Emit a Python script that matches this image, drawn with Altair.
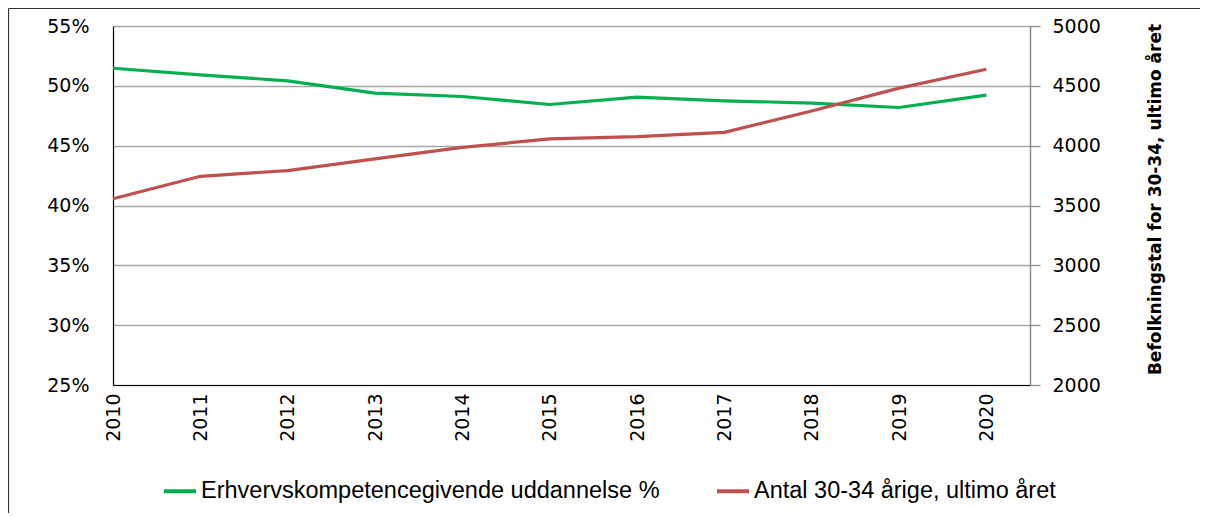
import altair as alt
import pandas as pd

years = [2010, 2011, 2012, 2013, 2014, 2015, 2016, 2017, 2018, 2019, 2020]
pct = [0.5147, 0.5092, 0.5042, 0.4939, 0.4911, 0.4844, 0.4906, 0.4875, 0.4856, 0.4819, 0.4922]
antal = [3556, 3744, 3792, 3889, 3986, 4056, 4075, 4111, 4290, 4481, 4639]

s1 = "Erhvervskompetencegivende  uddannelse %"
s2 = "Antal 30-34 årige, ultimo året"
right_title = "Befolkningstal for 30-34, ultimo året"

df1 = pd.DataFrame({"year": years, "pct": pct, "series": [s1] * len(years)})
df2 = pd.DataFrame({"year": years, "antal": antal, "series": [s2] * len(years)})

FONT = "DejaVu Sans"

xenc = alt.X("year:Q",
             scale=alt.Scale(domain=[2010, 2020.5], nice=False, zero=False),
             axis=alt.Axis(values=years, format="d", labelAngle=270, labelFontSize=19,
                           labelFont=FONT, labelColor="#000", labelPadding=8,
                           ticks=False, grid=False, domainColor="#000", domainWidth=1.2,
                           title=None))

color = alt.Color("series:N",
                  scale=alt.Scale(domain=[s1, s2], range=["#00B050", "#C0504D"]),
                  legend=alt.Legend(orient="none", legendX=49, legendY=447, direction="horizontal",
                                    title=None, symbolType="stroke", symbolSize=1024,
                                    symbolStrokeWidth=4, labelFont="Liberation Sans",
                                    labelFontSize=23.5, labelColor="#000", labelOffset=3,
                                    columnPadding=42, labelLimit=600))

green = alt.Chart(df1).mark_line(strokeWidth=3.2).encode(
    x=xenc,
    y=alt.Y("pct:Q",
            scale=alt.Scale(domain=[0.25, 0.55], nice=False, zero=False),
            axis=alt.Axis(values=[0.25, 0.30, 0.35, 0.40, 0.45, 0.50, 0.55], format=".0%",
                          orient="left", labelFontSize=19, labelFont=FONT, labelColor="#000",
                          labelPadding=24, ticks=False, grid=True, gridColor="#A6A6A6",
                          gridWidth=1.3, domainColor="#000", domainWidth=1.2, title=None)),
    color=color,
)

red = alt.Chart(df2).mark_line(strokeWidth=3.2).encode(
    x=xenc,
    y=alt.Y("antal:Q",
            scale=alt.Scale(domain=[2000, 5000], nice=False, zero=False),
            axis=alt.Axis(values=[2000, 2500, 3000, 3500, 4000, 4500, 5000], format="d",
                          orient="right", labelFontSize=19, labelFont=FONT, labelColor="#000",
                          labelPadding=12, ticks=True, tickSize=10, tickColor="#8C8C8C",
                          tickWidth=1.3, grid=False, domainColor="#8C8C8C", domainWidth=1.5,
                          title=right_title, titleFont=FONT, titleFontSize=17,
                          titleFontWeight="bold", titleColor="#000", titleAngle=270,
                          titlePadding=64, titleY=173)),
    color=color,
)

frame = alt.Chart(alt.Data(values=[{}])).mark_rule(color="#333", strokeWidth=1.2).encode(
    x=alt.value(-104.5), y=alt.value(-17.5), y2=alt.value(520))
frame_top = alt.Chart(alt.Data(values=[{}])).mark_rule(color="#333", strokeWidth=1.2).encode(
    x=alt.value(-104.5), x2=alt.value(1200), y=alt.value(-17.5))

chart = alt.layer(green, red, frame, frame_top).resolve_scale(y="independent").properties(
    width=917, height=359,
    autosize=alt.AutoSizeParams(type="none"),
    padding={"left": 105, "top": 18, "right": 170, "bottom": 128},
).configure_view(stroke=None).configure(background="white")

chart.save("out.html", embed_options={"renderer": "svg", "actions": False})
